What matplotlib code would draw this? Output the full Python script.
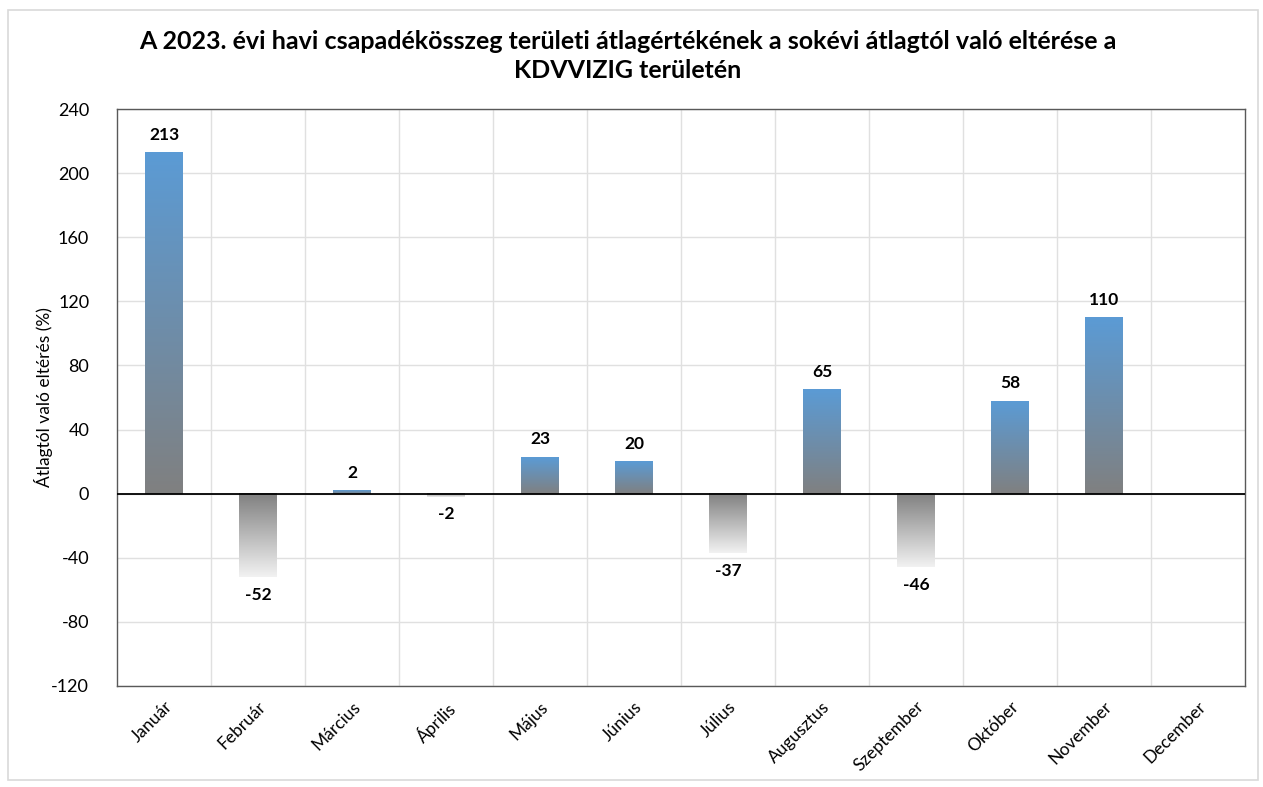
import numpy as np
import matplotlib
matplotlib.use("Agg")
import matplotlib.pyplot as plt
from matplotlib.colors import LinearSegmentedColormap
from matplotlib.patches import Rectangle

plt.rcParams['font.family'] = ['Lato', 'DejaVu Sans']

months = ["Január", "Február", "Március", "Április", "Május", "Június",
          "Július", "Augusztus", "Szeptember", "Október", "November", "December"]
values = [213, -52, 2, -2, 23, 20, -37, 65, -46, 58, 110, None]
yticks = [-120, -80, -40, 0, 40, 80, 120, 160, 200, 240]
title = "A 2023. évi havi csapadékösszeg területi átlagértékének a sokévi átlagtól való eltérése a\nKDVVIZIG területén"
ylabel = "Átlagtól való eltérés (%)"

fig = plt.figure(figsize=(12.63, 7.87), dpi=100)
ax = fig.add_axes([117/1263, 1-686/787, (1245-117)/1263, (686-109)/787])

fig.patches.append(Rectangle((8/1263, 1-780/787), 1250/1263, 770/787,
                             transform=fig.transFigure, fill=False,
                             edgecolor="#D9D9D9", linewidth=1.2, zorder=0))

pos_cmap = LinearSegmentedColormap.from_list("pos", ["#808080", "#5B9BD5"])
neg_cmap = LinearSegmentedColormap.from_list("neg", ["#F2F2F2", "#808080"])
grad = np.linspace(0, 1, 256).reshape(-1, 1)

x = np.arange(len(months))
width = 0.4
ax.set_xlim(-0.5, len(months) - 0.5)
ax.set_ylim(-120, 240)

for xi, v in zip(x, values):
    if v is None:
        continue
    cmap = pos_cmap if v >= 0 else neg_cmap
    lo, hi = min(0, v), max(0, v)
    ax.imshow(grad, cmap=cmap, origin="lower", aspect="auto",
              extent=(xi - width/2, xi + width/2, lo, hi), zorder=3,
              interpolation="bilinear")
    if v >= 0:
        ax.text(xi, v + 6, f"{v}", ha="center", va="bottom",
                fontsize=12.5, fontweight="bold", color="black", zorder=5)
    else:
        ax.text(xi, v - 6, f"{v}", ha="center", va="top",
                fontsize=12.5, fontweight="bold", color="black", zorder=5)

ax.set_xlim(-0.5, len(months) - 0.5)
ax.set_ylim(-120, 240)
ax.set_yticks(yticks)
ax.set_yticklabels([str(t) for t in yticks], fontsize=13)
ax.set_xticks(x)
ax.set_xticklabels(months, rotation=45, ha="right", rotation_mode="anchor", fontsize=12.5)
ax.tick_params(axis="both", length=0, pad=9)
ax.tick_params(axis="y", pad=20)

for yv in yticks:
    ax.axhline(yv, color="#E0E0E0", linewidth=1, zorder=1)
for xb in np.arange(0.5, len(months) - 0.5, 1):
    ax.axvline(xb, color="#E0E0E0", linewidth=1, zorder=1)
ax.axhline(0, color="black", linewidth=1.3, zorder=4)

for s in ax.spines.values():
    s.set_color("#595959")
    s.set_linewidth(1)

ax.set_ylabel(ylabel, fontsize=12.5)
ax.yaxis.set_label_coords(-0.057, 0.5)
fig.text(628/1263, 1-56/787, title, ha="center", va="center",
         fontsize=18, fontweight="bold", linespacing=1.3)

fig.savefig("out.png", dpi=100)
